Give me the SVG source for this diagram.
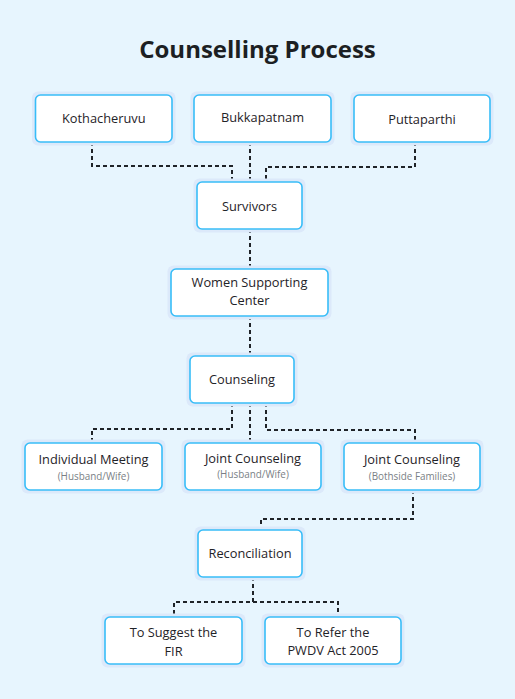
<svg xmlns="http://www.w3.org/2000/svg" width="515" height="699" viewBox="0 0 515 699">
<style>
.halo{fill:#dce9fa;}
.box{fill:#ffffff;stroke:#38bdf8;stroke-width:1.6;}
.t{font-family:"Open Sans","Noto Sans","Liberation Sans",sans-serif;font-size:12.8px;font-weight:500;fill:#1f2328;text-anchor:middle;}
.s{font-family:"Open Sans","Noto Sans","Liberation Sans",sans-serif;font-size:9.9px;fill:#7a7f86;text-anchor:middle;}
.title{font-family:"Open Sans","Noto Sans","Liberation Sans",sans-serif;font-size:24px;font-weight:700;fill:#1c1f23;text-anchor:middle;}
.c{fill:none;stroke:#1f2328;stroke-width:2;stroke-dasharray:4 3;}
</style>
<rect width="515" height="699" fill="#e7f5fe"/>
<text class="title" x="257.5" y="58">Counselling Process</text>
<g id="connectors">
<path class="c" d="M92 142 V166 H232 V182"/>
<path class="c" d="M250 142 V182"/>
<path class="c" d="M415 142 V167 H266 V182"/>
<path class="c" d="M250 229 V269"/>
<path class="c" d="M250 316 V356"/>
<path class="c" d="M232 403 V429 H92 V443"/>
<path class="c" d="M250 403 V443"/>
<path class="c" d="M266 403 V430 H415 V443"/>
<path class="c" d="M413 490 V519 H261 V530"/>
<path class="c" d="M253 577 V602 H174 V617"/>
<path class="c" d="M253 602 H338 V617"/>
</g>
<g id="kothacheruvu">
<rect class="halo" x="32" y="91.5" width="143.5" height="54" rx="6"/>
<rect class="box" x="35.5" y="95" width="136.5" height="47" rx="5"/>
<text class="t" x="103.75" y="123">Kothacheruvu</text>
</g>
<g id="bukkapatnam">
<rect class="halo" x="190.5" y="91.5" width="144" height="54" rx="6"/>
<rect class="box" x="194" y="95" width="137" height="47" rx="5"/>
<text class="t" x="262.5" y="122">Bukkapatnam</text>
</g>
<g id="puttaparthi">
<rect class="halo" x="350.5" y="91.5" width="143" height="54" rx="6"/>
<rect class="box" x="354" y="95" width="136" height="47" rx="5"/>
<text class="t" x="422" y="123.5">Puttaparthi</text>
</g>
<g id="survivors">
<rect class="halo" x="193.5" y="178.5" width="112" height="54" rx="6"/>
<rect class="box" x="197" y="182" width="105" height="47" rx="5"/>
<text class="t" x="249.5" y="211">Survivors</text>
</g>
<g id="women-supporting-center">
<rect class="halo" x="167.5" y="265.5" width="164" height="54" rx="6"/>
<rect class="box" x="171" y="269" width="157" height="47" rx="5"/>
<text class="t" x="249.5" y="287">Women Supporting</text>
<text class="t" x="249.5" y="305">Center</text>
</g>
<g id="counseling">
<rect class="halo" x="186.5" y="352.5" width="111" height="54" rx="6"/>
<rect class="box" x="190" y="356" width="104" height="47" rx="5"/>
<text class="t" x="242" y="383.5">Counseling</text>
</g>
<g id="individual-meeting">
<rect class="halo" x="21.5" y="439.5" width="144" height="54" rx="6"/>
<rect class="box" x="25" y="443" width="137" height="47" rx="5"/>
<text class="t" x="93.5" y="463.5">Individual Meeting</text>
<text class="s" x="93.5" y="479.5">(Husband/Wife)</text>
</g>
<g id="joint-counseling-husband-wife">
<rect class="halo" x="181.5" y="439.5" width="143" height="54" rx="6"/>
<rect class="box" x="185" y="443" width="136" height="47" rx="5"/>
<text class="t" x="253" y="462.5">Joint Counseling</text>
<text class="s" x="253" y="478">(Husband/Wife)</text>
</g>
<g id="joint-counseling-bothside">
<rect class="halo" x="340.5" y="439.5" width="143" height="54" rx="6"/>
<rect class="box" x="344" y="443" width="136" height="47" rx="5"/>
<text class="t" x="412" y="463.5">Joint Counseling</text>
<text class="s" x="412" y="479.5">(Bothside Families)</text>
</g>
<g id="reconciliation">
<rect class="halo" x="194.5" y="526.5" width="111" height="54" rx="6"/>
<rect class="box" x="198" y="530" width="104" height="47" rx="5"/>
<text class="t" x="250" y="558">Reconciliation</text>
</g>
<g id="to-suggest-fir">
<rect class="halo" x="101.5" y="613.5" width="144" height="54" rx="6"/>
<rect class="box" x="105" y="617" width="137" height="47" rx="5"/>
<text class="t" x="173.5" y="637">To Suggest the</text>
<text class="t" x="173.5" y="655.5">FIR</text>
</g>
<g id="to-refer-pwdv">
<rect class="halo" x="261.5" y="613.5" width="143" height="54" rx="6"/>
<rect class="box" x="265" y="617" width="136" height="47" rx="5"/>
<text class="t" x="333" y="637">To Refer the</text>
<text class="t" x="333" y="654.5">PWDV Act 2005</text>
</g>
</svg>
